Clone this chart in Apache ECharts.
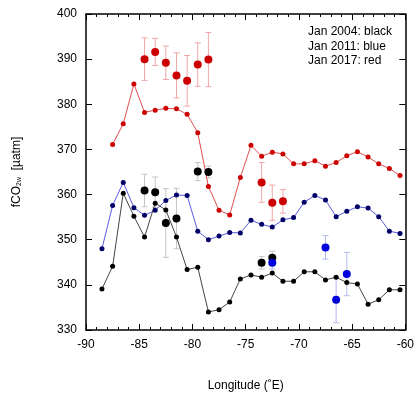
<!DOCTYPE html>
<html>
<head>
<meta charset="utf-8">
<script src="https://cdn.jsdelivr.net/npm/echarts@6/dist/echarts.min.js"></script>
<style>
  html, body { margin: 0; padding: 0; background: #fff; }
  #chart { width: 417px; height: 397px; }
</style>
</head>
<body>
<div id="chart"></div>
<script>
// along-track section, 1 degree bins
const lonLine = [-88.5, -87.5, -86.5, -85.5, -84.5, -83.5, -82.5, -81.5, -80.5, -79.5,
  -78.5, -77.5, -76.5, -75.5, -74.5, -73.5, -72.5, -71.5, -70.5, -69.5,
  -68.5, -67.5, -66.5, -65.5, -64.5, -63.5, -62.5, -61.5, -60.5];
const lonLineRed = [-87.5, -86.5, -85.5, -84.5, -83.5, -82.5, -81.5, -80.5, -79.5,
  -78.5, -77.5, -76.5, -75.5, -74.5, -73.5, -72.5, -71.5, -70.5, -69.5,
  -68.5, -67.5, -66.5, -65.5, -64.5, -63.5, -62.5, -61.5, -60.5];

const line2004 = [339.1, 344.1, 360.3, 355.2, 350.6, 358.1, 356.6, 350.6, 343.4, 343.9,
  334.0, 334.5, 336.2, 341.3, 342.2, 341.7, 342.6, 340.8, 340.8, 342.9,
  342.9, 341.1, 341.7, 340.5, 340.2, 335.7, 336.7, 338.9, 338.9];
const line2011 = [348.0, 357.6, 362.7, 357.1, 355.4, 356.5, 358.7, 359.9, 359.8, 351.9,
  350.0, 350.8, 351.6, 351.5, 354.3, 353.4, 352.8, 354.4, 354.9, 358.3,
  359.8, 358.8, 355.1, 356.3, 357.3, 357.0, 355.1, 351.9, 351.4];
const line2017 = [371.1, 375.7, 384.5, 378.2, 378.7, 379.1, 379.0, 377.8, 373.7,
  361.8, 356.5, 355.5, 363.8, 370.9, 368.5, 369.4, 369.0, 366.8, 366.8,
  367.5, 366.3, 367.1, 368.6, 369.5, 368.3, 366.8, 365.8, 364.2];

// station means with error bars
const stLon2004 = [-84.5, -83.5, -82.5, -81.5, -79.5, -78.5, -73.5, -72.5];
const stVal2004 = [360.9, 360.5, 353.7, 354.7, 365.1, 365.0, 344.9, 346.0];
const stErr2004 = [3.6, 3.4, 7.6, 6.7, 2.0, 1.3, 1.4, 1.5];

const stLon2011 = [-72.5, -67.5, -66.5, -65.5];
const stVal2011 = [344.9, 348.3, 336.7, 342.4];
const stErr2011 = [1.4, 2.6, 5.1, 4.8];

const stLon2017 = [-84.5, -83.5, -82.5, -81.5, -80.5, -79.5, -78.5, -73.5, -72.5, -71.5];
const stVal2017 = [390.0, 391.6, 389.2, 386.4, 385.2, 388.8, 389.9, 362.7, 358.2, 358.5];
const stErr2017 = [4.7, 3.0, 3.7, 5.0, 5.6, 4.8, 6.0, 4.4, 3.9, 2.6];

const legendLines = ['Jan 2004: black', 'Jan 2011: blue', 'Jan 2017: red'];

const FONT = '"Liberation Sans", Arial, sans-serif';

const zip = (xs, ys) => xs.map((x, i) => [x, ys[i]]);
const zip3 = (xs, ys, es) => xs.map((x, i) => [x, ys[i], es[i]]);

function errorBars(color) {
  return function (params, api) {
    const x = api.value(0), y = api.value(1), e = api.value(2);
    const hi = api.coord([x, y + e]);
    const lo = api.coord([x, y - e]);
    const cap = 3;
    const st = { stroke: color, lineWidth: 1 };
    return {
      type: 'group',
      children: [
        { type: 'line', shape: { x1: hi[0], y1: hi[1], x2: lo[0], y2: lo[1] }, style: st },
        { type: 'line', shape: { x1: hi[0] - cap, y1: hi[1], x2: hi[0] + cap, y2: hi[1] }, style: st },
        { type: 'line', shape: { x1: lo[0] - cap, y1: lo[1], x2: lo[0] + cap, y2: lo[1] }, style: st }
      ]
    };
  };
}

function lineSeries(xs, ys, lineColor, dotColor) {
  return {
    type: 'line',
    data: zip(xs, ys),
    symbol: 'circle',
    symbolSize: 5,
    lineStyle: { color: lineColor, width: 1 },
    itemStyle: { color: dotColor },
    z: 3,
    animation: false
  };
}

function errSeries(xs, ys, es, color) {
  return {
    type: 'custom',
    data: zip3(xs, ys, es),
    renderItem: errorBars(color),
    encode: { x: 0, y: 1 },
    z: 2,
    animation: false
  };
}

function pointSeries(xs, ys, color) {
  return {
    type: 'scatter',
    data: zip(xs, ys),
    symbol: 'circle',
    symbolSize: 8,
    itemStyle: { color: color, opacity: 1 },
    z: 4,
    animation: false
  };
}

const axisLine = { show: true, lineStyle: { color: '#000', width: 1.5 } };

const xBase = {
  type: 'value', min: -90, max: -60, interval: 5,
  axisLine: axisLine,
  axisTick: { inside: true, length: 6, lineStyle: { color: '#000' } },
  minorTick: { show: true, splitNumber: 5, length: 3, lineStyle: { color: '#000' } },
  splitLine: { show: false }
};
const yBase = {
  type: 'value', min: 330, max: 400, interval: 10,
  axisLine: axisLine,
  axisTick: { inside: true, length: 6, lineStyle: { color: '#000' } },
  splitLine: { show: false }
};

const chart = echarts.init(document.getElementById('chart'), null, { renderer: 'canvas' });
chart.setOption({
  backgroundColor: '#fff',
  animation: false,
  textStyle: { fontFamily: FONT },
  grid: { left: 86, right: 10, top: 14, bottom: 63, containLabel: false },
  xAxis: [
    Object.assign({}, xBase, {
      position: 'bottom',
      axisLabel: { color: '#000', fontSize: 12, margin: 9, fontFamily: FONT },
      name: 'Longitude (\u02daE)',
      nameLocation: 'middle',
      nameGap: 50,
      nameTextStyle: { color: '#000', fontSize: 12, fontFamily: FONT }
    }),
    Object.assign({}, xBase, { position: 'top', axisLabel: { show: false } })
  ],
  yAxis: [
    Object.assign({}, yBase, {
      position: 'left',
      axisLabel: { color: '#000', fontSize: 12, margin: 9, fontFamily: FONT },
      name: 'fCO{sub|2w}  [\u00b5atm]',
      nameLocation: 'middle',
      nameRotate: 90,
      nameGap: 63,
      nameTextStyle: {
        color: '#000', fontSize: 12, fontFamily: FONT,
        rich: { sub: { fontSize: 7, verticalAlign: 'bottom', padding: [6, 0, 0, 0], fontFamily: FONT } }
      }
    }),
    Object.assign({}, yBase, { position: 'right', axisLabel: { show: false } })
  ],
  graphic: legendLines.map((t, i) => ({
    type: 'text',
    left: 308,
    top: 26 + i * 14.3,
    style: { text: t, fill: '#000', font: '12px ' + FONT }
  })),
  series: [
    errSeries(stLon2004, stVal2004, stErr2004, '#c4c4c4'),
    errSeries(stLon2011, stVal2011, stErr2011, '#b4b8f2'),
    errSeries(stLon2017, stVal2017, stErr2017, '#f3a6a6'),
    lineSeries(lonLineRed, line2017, '#e05050', '#cc0000'),
    lineSeries(lonLine, line2011, '#5a5ae0', '#000066'),
    lineSeries(lonLine, line2004, '#444444', '#000000'),
    pointSeries(stLon2004, stVal2004, '#000000'),
    pointSeries(stLon2011, stVal2011, '#0000dd'),
    pointSeries(stLon2017, stVal2017, '#cc0000')
  ]
});
</script>
</body>
</html>
